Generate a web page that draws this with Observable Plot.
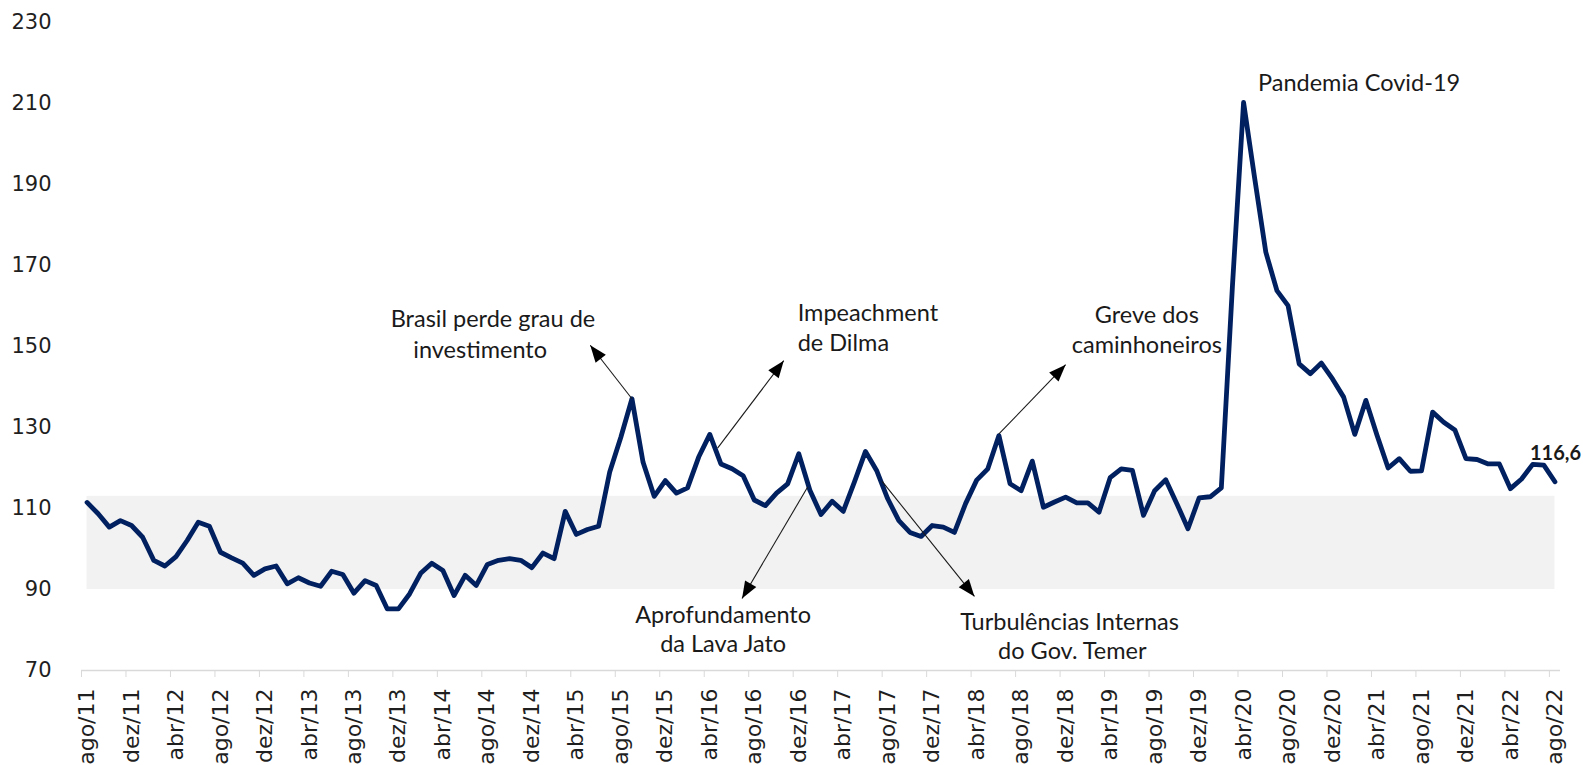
<!DOCTYPE html>
<html><head><meta charset="utf-8">
<script src="https://cdn.jsdelivr.net/npm/d3@7"></script>
<script src="https://cdn.jsdelivr.net/npm/@observablehq/plot@0.6"></script>
<style>html,body{margin:0;padding:0;background:#fff;overflow:hidden}</style>
</head><body><div id="chart"></div>
<script>
// monthly index values, ago/11 .. ago/22
const values = [
111.5,108.7,105.4,107.0,105.8,102.9,97.2,95.8,98.1,102.1,106.6,105.6,
99.2,97.8,96.5,93.5,95.1,95.8,91.4,92.9,91.6,90.8,94.5,93.7,
89.1,92.2,91.0,85.2,85.2,88.9,94.0,96.5,94.7,88.5,93.5,91.0,
96.2,97.2,97.6,97.2,95.4,99.0,97.6,109.3,103.6,104.8,105.6,119.0,
127.6,137.1,121.4,113.0,116.9,113.8,115.1,122.7,128.3,121.0,119.8,118.1,
112.1,110.7,113.8,116.1,123.5,114.5,108.5,111.8,109.3,116.5,124.1,119.4,
112.4,107.0,104.1,103.1,105.8,105.4,104.1,111.2,117.0,119.8,128.0,116.1,
114.4,121.7,110.3,111.6,112.8,111.4,111.4,109.1,117.6,119.8,119.4,108.3,
114.4,117.1,111.2,105.0,112.6,112.9,115.1,165.0,210.3,191.5,173.3,163.8,
160.1,145.7,143.3,145.9,142.0,137.5,128.3,136.7,128.1,120.0,122.3,119.2,
119.3,133.8,131.3,129.4,122.3,122.1,121.0,121.0,114.9,117.3,120.9,120.7,
116.6];
const tickLabels = ["ago/11","dez/11","abr/12","ago/12","dez/12","abr/13","ago/13","dez/13","abr/14","ago/14","dez/14","abr/15","ago/15","dez/15","abr/16","ago/16","dez/16","abr/17","ago/17","dez/17","abr/18","ago/18","dez/18","abr/19","ago/19","dez/19","abr/20","ago/20","dez/20","abr/21","ago/21","dez/21","abr/22","ago/22"];
const yTicks = [70,90,110,130,150,170,190,210,230];
const bandLow = 90, bandHigh = 113;
const lastLabel = "116,6";

// annotation texts (anchored in data space: month index, value)
const notesCentered = [
  {text:"Brasil perde grau de", i:36.5, v:156.7},
  {text:"investimento", i:35.35, v:149.0},
  {text:"Aprofundamento", i:57.2, v:83.6},
  {text:"da Lava Jato", i:57.2, v:76.4},
  {text:"Turbulências Internas", i:88.35, v:81.85},
  {text:"do Gov. Temer", i:88.6, v:74.7},
  {text:"Greve dos", i:95.3, v:157.6},
  {text:"caminhoneiros", i:95.3, v:150.2}
];
const notesLeft = [
  {text:"Impeachment", i:63.9, v:158.2},
  {text:"de Dilma", i:63.9, v:150.7},
  {text:"Pandemia Covid-19", i:105.3, v:214.9}
];
const arrows = [
  {i1:49, v1:137.1, i2:45.25, v2:150.3},
  {i1:56.7, v1:124.9, i2:62.65, v2:146.5},
  {i1:64.8, v1:115.3, i2:58.9, v2:87.8},
  {i1:71.5, v1:116.7, i2:79.8, v2:88.3},
  {i1:82.0, v1:128.4, i2:88.0, v2:145.5}
];

const data = values.map((v, i) => ({i, v}));
const tickIdx = tickLabels.map((_, k) => k * 4);

const common = {
  width: 1583, height: 765,
  marginLeft: 81, marginRight: 23, marginTop: 22, marginBottom: 95,
  x: {domain: [-0.5, 132.5]},
  y: {domain: [70, 230]},
  style: {fontFamily: "Lato, sans-serif", background: "#fff"}
};

const lineMark = Plot.line(data, {x: "i", y: "v", stroke: "#002060", strokeWidth: 4.8, strokeLinejoin: "round", strokeLinecap: "round"});

const probe = Plot.plot({...common, marks: [lineMark]});
const sx = probe.scale("x"), sy = probe.scale("y");
const angle = d => {
  const dx = sx.apply(d.i2) - sx.apply(d.i1);
  const dy = sy.apply(d.v2) - sy.apply(d.v1);
  return Math.atan2(dx, -dy) * 180 / Math.PI;
};
const head = {draw(ctx) { ctx.moveTo(0, 0); ctx.lineTo(-6.5, 17); ctx.lineTo(6.5, 17); ctx.closePath(); }};

const chart = Plot.plot({
  ...common,
  marks: [
    Plot.rectY([{a: 0, b: 132}], {x1: "a", x2: "b", y1: () => bandLow, y2: () => bandHigh, fill: "#f2f2f2"}),
    Plot.ruleY([70], {stroke: "#d9d9d9", strokeWidth: 1.5}),
    Plot.axisY({ticks: yTicks, tickSize: 0, tickPadding: 30, fontSize: 21, fontFamily: "DejaVu Sans", fill: "#1f1f1f"}),
    Plot.axisX({ticks: tickIdx.map(t => t - 0.5), tickFormat: () => "", tickSize: 7, stroke: "#d9d9d9", label: null}),
    Plot.axisX({ticks: tickIdx, tickFormat: (d) => tickLabels[d / 4], tickSize: 0, tickPadding: 18, tickRotate: -90, fontSize: 22, fontFamily: "DejaVu Sans", fill: "#1f1f1f", label: null}),
    lineMark,
    Plot.link(arrows, {x1: "i1", y1: "v1", x2: "i2", y2: "v2", stroke: "#1a1a1a", strokeWidth: 1.1}),
    Plot.dot(arrows, {x: "i2", y: "v2", symbol: head, rotate: angle, r: 5, fill: "#000", stroke: "none"}),
    Plot.text(notesCentered, {x: "i", y: "v", text: "text", textAnchor: "middle", fontSize: 23.5, fill: "#1a1a1a"}),
    Plot.text(notesLeft, {x: "i", y: "v", text: "text", textAnchor: "start", fontSize: 23.5, fill: "#1a1a1a"}),
    Plot.text([{i: values.length - 1, v: values[values.length - 1]}], {x: "i", y: "v", text: () => lastLabel, dx: -25, dy: -28, textAnchor: "start", fontSize: 20, fontWeight: "bold", fill: "#1a1a1a"})
  ]
});
document.getElementById("chart").appendChild(chart);
</script>
</body></html>
